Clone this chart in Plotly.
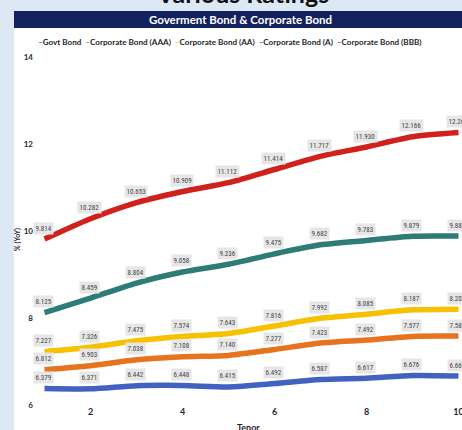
import plotly.graph_objects as go

tenor = [1, 2, 3, 4, 5, 6, 7, 8, 9, 10]
series_names = ["Govt Bond", "Corporate Bond (AAA)", "Corporate Bond (AA)",
                "Corporate Bond (A)", "Corporate Bond (BBB)"]
govt = [6.379, 6.371, 6.442, 6.448, 6.415, 6.492, 6.587, 6.617, 6.676, 6.664]
aaa = [6.812, 6.903, 7.038, 7.108, 7.140, 7.277, 7.423, 7.492, 7.577, 7.584]
aa = [7.227, 7.326, 7.475, 7.574, 7.643, 7.816, 7.992, 8.085, 8.187, 8.203]
a_rated = [8.125, 8.459, 8.804, 9.058, 9.236, 9.475, 9.682, 9.783, 9.879, 9.883]
bbb = [9.814, 10.282, 10.653, 10.909, 11.112, 11.414, 11.717, 11.930, 12.166, 12.263]
x_ticks = [2, 4, 6, 8, 10]
y_ticks = [6, 8, 10, 12, 14]

values = [govt, aaa, aa, a_rated, bbb]
colors = ["#4262c2", "#e8731e", "#f6c100", "#2e7c77", "#d0211d"]

W, H = 462, 430
L, R, T, B = 40, 0, 57, 25
pw, ph = W - L - R, H - T - B


def px(x):
    return (x - L) / pw


def py(y):
    return (H - B - y) / ph


FONT = "Lato"
DARK = "#1f2533"

fig = go.Figure()
for name, vals, col in zip(series_names, values, colors):
    fig.add_trace(go.Scatter(
        x=tenor, y=vals, name=name, mode="lines",
        line=dict(color=col, width=5.5, shape="spline", smoothing=0.7),
        showlegend=False, hoverinfo="skip"))

annotations = []
for vals in values:
    for xv, yv in zip(tenor, vals):
        annotations.append(dict(
            x=xv, y=yv, xref="x", yref="y", text=f"{yv:.3f}", showarrow=False,
            yshift=11, xshift=-1, bgcolor="#e6e6e6", borderpad=1.5,
            font=dict(family="Roboto Condensed, Roboto, sans-serif", size=7, color="#444444")))

# legend as text
leg = "  ".join(
    f"<span style='color:{c}'>\u2013</span>{n}" for n, c in zip(series_names, colors))
annotations.append(dict(
    x=px(230), y=py(42), xref="paper", yref="paper", text=leg, showarrow=False,
    xanchor="center", yanchor="middle",
    font=dict(family=FONT, size=8.1, color="#262626", weight="bold")))

# header
annotations.append(dict(
    x=px(240), y=py(19.5), xref="paper", yref="paper",
    text="Goverment Bond & Corporate Bond", showarrow=False,
    xanchor="center", yanchor="middle",
    font=dict(family=FONT, size=11.5, color="white", weight="bold")))
# cut-off main title
annotations.append(dict(
    x=px(242), y=py(-7), xref="paper", yref="paper",
    text="Various Ratings", showarrow=False,
    xanchor="center", yanchor="middle",
    font=dict(family=FONT, size=25, color="#111111", weight="bold")))
# y title
annotations.append(dict(
    x=px(17), y=py(240), xref="paper", yref="paper",
    text="% (YoY)", showarrow=False, textangle=-90,
    xanchor="center", yanchor="middle",
    font=dict(family=FONT, size=7, color=DARK, weight="bold")))
# x title
annotations.append(dict(
    x=px(248), y=py(427), xref="paper", yref="paper",
    text="Tenor", showarrow=False, xanchor="center", yanchor="middle",
    font=dict(family=FONT, size=9, color=DARK, weight="bold")))

shapes = [
    dict(type="rect", xref="paper", yref="paper", x0=px(14), x1=px(470),
         y0=py(440), y1=py(28), fillcolor="white", line=dict(width=0), layer="below"),
    dict(type="rect", xref="paper", yref="paper", x0=px(14), x1=px(470),
         y0=py(28), y1=py(11), fillcolor="#13225f", line=dict(width=0), layer="below"),
]

fig.update_layout(
    width=W, height=H,
    margin=dict(l=L, r=R, t=T, b=B, autoexpand=False),
    paper_bgcolor="#dde8f5", plot_bgcolor="white",
    shapes=shapes, annotations=annotations,
    xaxis=dict(range=[1 - 4.5 / 46, 10 + 3.5 / 46], tickvals=x_ticks, showgrid=False,
               zeroline=False, showline=False, ticks="", automargin=False,
               ticklabeloverflow="allow",
               tickfont=dict(family=FONT, size=9, color=DARK, weight="bold")),
    yaxis=dict(range=[6, 14], tickvals=y_ticks, showgrid=False, zeroline=False,
               showline=False, ticks="", automargin=False, ticklabelstandoff=6,
               tickfont=dict(family=FONT, size=8, color=DARK, weight="bold")),
)

fig.write_html("out.html")
